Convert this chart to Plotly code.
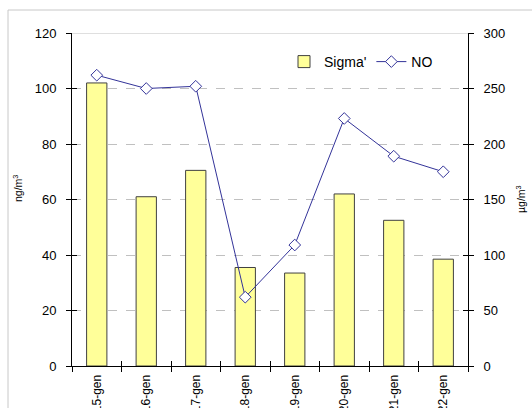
import plotly.graph_objects as go

# Sampling days
days = ["15-gen", "16-gen", "17-gen", "18-gen", "19-gen", "20-gen", "21-gen", "22-gen"]
# Sigma' concentration (ng/m3, left axis)
sigma = [102, 61, 70.5, 35.5, 33.5, 62, 52.5, 38.5]
# NO concentration (ug/m3, right axis)
no_vals = [262, 250, 252, 62, 109, 223, 189, 175]

left_ticks = [0, 20, 40, 60, 80, 100, 120]
right_ticks = [0, 50, 100, 150, 200, 250, 300]

FONT = "Liberation Sans, Arial, sans-serif"
NAVY = "#333399"

fig = go.Figure()
fig.add_trace(go.Bar(
    x=days, y=sigma, name="Sigma'",
    marker=dict(color="#FFFF99", line=dict(color="#404040", width=1)),
    width=0.41,
))
fig.add_trace(go.Scatter(
    x=days, y=no_vals, name="NO", yaxis="y2", mode="lines+markers",
    line=dict(color=NAVY, width=1),
    marker=dict(symbol="diamond", size=9, color="white", line=dict(color=NAVY, width=1)),
))
# invisible helper traces so the inner tick marks get drawn
fig.add_trace(go.Scatter(x=[0], y=[0], xaxis="x2", yaxis="y3", mode="markers",
                         marker=dict(opacity=0), showlegend=False, hoverinfo="skip"))
fig.add_trace(go.Scatter(x=[0], y=[0], xaxis="x2", yaxis="y4", mode="markers",
                         marker=dict(opacity=0), showlegend=False, hoverinfo="skip"))

W, H = 532, 408
L, R, T, B = 72, 64, 33, 42
pw, ph = W - L - R, H - T - B

def px_x(x):
    return (x - L) / pw

def px_y(y):
    return (H - B - y) / ph

n = len(days)
boundaries = [i - 0.5 for i in range(n + 1)]

fig.update_layout(
    width=W, height=H,
    margin=dict(l=L, r=R, t=T, b=B, autoexpand=False),
    paper_bgcolor="white", plot_bgcolor="white",
    font=dict(family=FONT, size=13, color="black"),
    bargap=0.59,
    showlegend=True,
    legend=dict(
        orientation="h", x=px_x(284), y=px_y(62), xanchor="left", yanchor="middle",
        bgcolor="rgba(0,0,0,0)", font=dict(size=14), itemwidth=30,
    ),
    xaxis=dict(
        type="category", showline=True, linecolor="black", linewidth=1,
        ticks="outside", ticklen=5, tickcolor="black", tickson="boundaries",
        tickangle=-90, tickfont=dict(size=12), showgrid=False, automargin=False,
        ticklabelstandoff=3, range=[-0.5, n - 0.5],
    ),
    xaxis2=dict(
        overlaying="x", range=[-0.5, n - 0.5], tickvals=boundaries,
        ticks="inside", ticklen=5, tickcolor="black", showticklabels=False,
        showgrid=False, zeroline=False, showline=False, side="bottom",
    ),
    yaxis=dict(
        range=[0, 120], tickvals=left_ticks, showline=True, linecolor="black",
        ticks="outside", ticklen=5, tickcolor="black",
        showgrid=True, gridcolor="#C0C0C0", griddash="dash", gridwidth=1,
        zeroline=False, automargin=False, ticklabelstandoff=7,
    ),
    yaxis2=dict(
        range=[0, 300], tickvals=right_ticks, overlaying="y", side="right",
        showline=True, linecolor="black", ticks="outside", ticklen=5, tickcolor="black",
        showgrid=False, zeroline=False, automargin=False, ticklabelstandoff=7,
    ),
    yaxis3=dict(
        range=[0, 120], tickvals=left_ticks, overlaying="y", side="left",
        ticks="inside", ticklen=5, tickcolor="black", showticklabels=False,
        showgrid=False, zeroline=False, showline=False,
    ),
    yaxis4=dict(
        range=[0, 300], tickvals=right_ticks, overlaying="y", side="right",
        ticks="inside", ticklen=5, tickcolor="black", showticklabels=False,
        showgrid=False, zeroline=False, showline=False,
    ),
    shapes=[
        # solid line along the top of the plot area
        dict(type="line", xref="paper", yref="y", x0=0, x1=1, y0=120, y1=120,
             line=dict(color="#C0C0C0", width=1), layer="below"),
        # chart frame
        dict(type="rect", xref="paper", yref="paper",
             x0=px_x(8), x1=px_x(560), y0=px_y(10), y1=px_y(440),
             line=dict(color="#C8C8C8", width=1)),
    ],
    annotations=[
        dict(text="ng/m<sup>3</sup>", xref="paper", yref="paper",
             x=px_x(17), y=px_y(189), textangle=-90, showarrow=False,
             font=dict(size=10.5), xanchor="center", yanchor="middle"),
        dict(text="µg/m<sup>3</sup>", xref="paper", yref="paper",
             x=px_x(520), y=px_y(199), textangle=-90, showarrow=False,
             font=dict(size=10.5), xanchor="center", yanchor="middle"),
    ],
)

fig.write_html("out.html")
